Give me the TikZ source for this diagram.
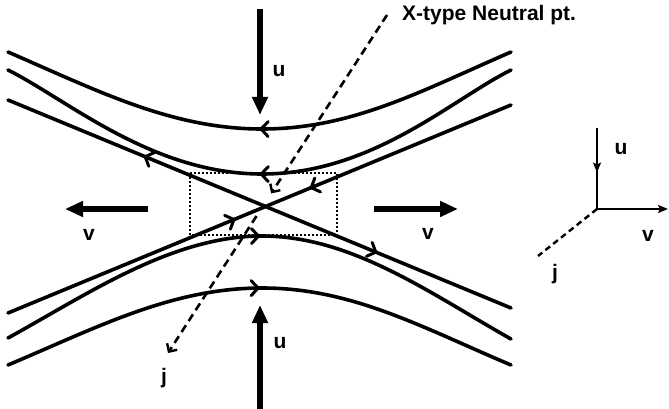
\documentclass[tikz,border=0pt]{standalone}
\usepackage{fontspec}
\setmainfont{Liberation Sans}
\usetikzlibrary{arrows.meta,decorations.markings,calc}
\begin{document}
\begin{tikzpicture}[x=1pt,y=-1pt,
  field/.style={line width=3.6pt, line cap=round},
  fhead/.tip={Straight Barb[length=7pt,width=15pt,line width=3pt,round]},
  marks/.style={postaction={decorate},decoration={markings,#1}},
  bigarrow/.style={line width=5.5pt,-{Triangle[length=18pt,width=15pt]}},
  lbl/.style={font=\bfseries\fontsize{21}{24}\selectfont, inner sep=0pt},
  jline/.style={line width=2.6pt, dash pattern=on 8pt off 5pt},
  jhead/.tip={Straight Barb[length=6pt,width=12pt,line width=2.4pt]},
  axisline/.style={line width=2.4pt},
  ahead/.tip={Stealth[length=10pt,width=8pt,inset=2pt]},
  dotbox/.style={line width=2pt, dash pattern=on 1.8pt off 2.2pt}
]
\useasboundingbox (0,0) rectangle (669,409);

% dotted box around the neutral point
\draw[dotbox] (190,173) rectangle (337,235);

% top field lines (flow to the left)
\draw[field, marks={mark=at position 0.5 with {\arrow{fhead}}}]
  (511,52) .. controls (421,91) and (352,129) .. (262,129)
           .. controls (172,129) and (98,91) .. (8,52);
\draw[field, marks={mark=at position 0.5 with {\arrow{fhead}}}]
  (511,70) .. controls (451,100) and (372,174) .. (262,174)
           .. controls (152,174) and (68,100) .. (8,70);

% bottom field lines (flow to the right)
\draw[field, marks={mark=at position 0.5 with {\arrow{fhead}}}]
  (8,338) .. controls (88,294) and (172,236) .. (262,236)
          .. controls (352,236) and (431,294) .. (511,339);
\draw[field, marks={mark=at position 0.5 with {\arrow{fhead}}}]
  (8,365) .. controls (98,327) and (172,288) .. (262,288)
          .. controls (352,288) and (421,327) .. (511,365);

% separatrices
\coordinate (s1a) at (8,100);
\coordinate (s1b) at (511,308);
\coordinate (s2a) at (8,313);
\coordinate (s2b) at (511,105);
\draw[field, marks={mark=at position 0.27 with {\arrowreversed{fhead}}, mark=at position 0.734 with {\arrow{fhead}}}] (s1a) -- (s1b);
\draw[field, marks={mark=at position 0.452 with {\arrow{fhead}}, mark=at position 0.60 with {\arrowreversed{fhead}}}] (s2a) -- (s2b);

% inflow arrows u
\coordinate (uTs) at (260,9);
\coordinate (uTe) at (260,115);
\coordinate (uBs) at (260,409);
\coordinate (uBe) at (260,305);
\draw[bigarrow] (uTs) -- (uTe);
\draw[bigarrow] (uBs) -- (uBe);
\node[lbl] (uT) at (279,71) {u};
\node[lbl] (uB) at (280,343) {u};

% outflow arrows v
\coordinate (vLs) at (148,209);
\coordinate (vLe) at (65,209);
\coordinate (vRs) at (374,209);
\coordinate (vRe) at (458,209);
\draw[bigarrow] (vLs) -- (vLe);
\draw[bigarrow] (vRs) -- (vRe);
\node[lbl] (vL) at (89,235) {v};
\node[lbl] (vR) at (428,234) {v};

% current j through the neutral point
\coordinate (X) at (263,206);
\coordinate (jtop) at (387,15);
\coordinate (jend) at (168,353);
\node[lbl, anchor=base west] (xlab) at (402,21) {X-type Neutral pt.};
\draw[jline, -{jhead}, shorten >=15pt] (jtop) -- (X);
\draw[jline, -{jhead}, shorten <=12pt] (X) -- (jend);
\node[lbl] (jlab) at (164,378) {j};

% coordinate axes
\coordinate (O) at (597,209);
\coordinate (Ou) at (597,128);
\coordinate (Ov) at (668,209);
\coordinate (Oj) at (538,256);
\draw[axisline, marks={mark=at position 0.55 with {\arrow{ahead}}}] (Ou) -- (O);
\draw[axisline, -{ahead}] (O) -- (Ov);
\draw[axisline, dash pattern=on 6pt off 4pt] (O) -- (Oj);
\node[lbl] (au) at (621,149) {u};
\node[lbl] (av) at (648,236) {v};
\node[lbl] (aj) at (555,274) {j};
\end{tikzpicture}
\end{document}
